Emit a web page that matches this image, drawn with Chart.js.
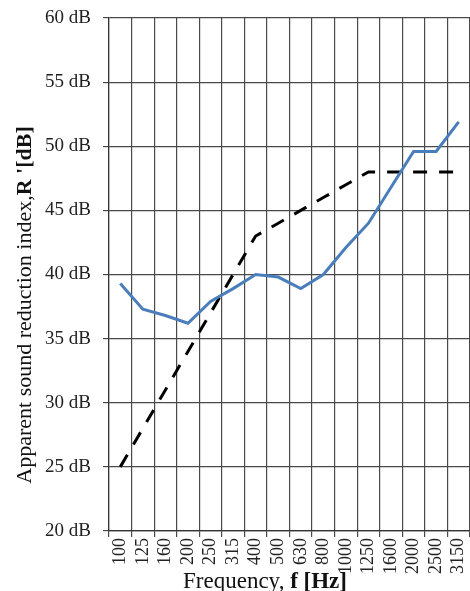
<!DOCTYPE html>
<html>
<head>
<meta charset="utf-8">
<script src="https://cdn.jsdelivr.net/npm/chart.js@4/dist/chart.umd.min.js"></script>
<style>
  html, body { margin: 0; padding: 0; background: #fff; }
  #wrap { position: relative; width: 470px; height: 591px; overflow: hidden; }
</style>
</head>
<body>
<div id="wrap"><canvas id="c" width="470" height="591"></canvas></div>
<script>
// One-third-octave band centre frequencies [Hz]
const frequencies = ['100', '125', '160', '200', '250', '315', '400', '500', '630',
  '800', '1000', '1250', '1600', '2000', '2500', '3150'];

// Measured apparent sound reduction index R' [dB]
const measuredR = [39.3, 37.3, 36.8, 36.2, 37.9, 38.9, 40.0, 39.8, 38.9,
  40.0, 42.1, 44.0, 46.8, 49.6, 49.6, 51.9];

// Reference curve [dB]
const referenceR = [25, 28, 31, 34, 37, 40, 43, 44, 45, 46, 47, 48, 48, 48, 48, 48];

// Y axis tick range [dB]
const yMin = 20, yMax = 60, yStep = 5;

const serif = "'Liberation Serif', 'Times New Roman', serif";
const gridColor = '#4a4a4a';

// Axis titles with a bold symbol part
const axisTitles = {
  id: 'axisTitles',
  afterDraw(chart) {
    const ctx = chart.ctx;
    const drawMixed = (parts, cx, cy, sz) => {
      let total = 0;
      parts.forEach(p => { ctx.font = p[1] + ' ' + sz + 'px ' + serif; total += ctx.measureText(p[0]).width; });
      let x = cx - total / 2;
      parts.forEach(p => {
        ctx.font = p[1] + ' ' + sz + 'px ' + serif;
        ctx.fillText(p[0], x, cy);
        x += ctx.measureText(p[0]).width;
      });
    };
    ctx.save();
    ctx.fillStyle = '#111';
    ctx.textBaseline = 'alphabetic';
    ctx.textAlign = 'left';
    drawMixed([['Frequency, ', 'normal'], ['f [Hz]', 'bold']], 265, 588, 23);
    ctx.translate(31, 305);
    ctx.rotate(-Math.PI / 2);
    drawMixed([['Apparent sound reduction index,', 'normal'], ["R '[dB]", 'bold']], 0, 0, 22);
    ctx.restore();
  }
};

new Chart(document.getElementById('c'), {
  type: 'line',
  data: {
    labels: frequencies,
    datasets: [
      {
        data: measuredR,
        borderColor: '#4A7EBB',
        borderWidth: 3,
        pointRadius: 0,
        tension: 0,
        fill: false
      },
      {
        data: referenceR,
        borderColor: '#000000',
        borderWidth: 3,
        borderDash: [14, 12],
        pointRadius: 0,
        tension: 0,
        fill: false
      }
    ]
  },
  options: {
    responsive: false,
    animation: false,
    devicePixelRatio: 1,
    layout: { padding: { top: 18, right: 0, bottom: 0, left: 0 } },
    plugins: { legend: { display: false }, tooltip: { enabled: false } },
    scales: {
      x: {
        type: 'category',
        offset: true,
        grid: { offset: true, color: gridColor, lineWidth: 1.2, tickLength: 6, tickColor: gridColor },
        border: { color: '#333', width: 1.2 },
        ticks: {
          color: '#222',
          font: { family: serif, size: 18 },
          maxRotation: 90, minRotation: 90,
          autoSkip: false,
          padding: 1
        },
        afterFit(scale) {
          scale.height = 60;
          scale.paddingLeft = 0;
          scale.paddingRight = 0;
        }
      },
      y: {
        min: yMin, max: yMax,
        grid: { color: gridColor, lineWidth: 1.2, tickLength: 6, tickColor: gridColor },
        border: { color: '#333', width: 1.2 },
        ticks: {
          stepSize: yStep,
          color: '#222',
          font: { family: serif, size: 19 },
          padding: 12,
          callback: v => v + ' dB'
        },
        afterFit(scale) {
          scale.width = 109;
          scale.paddingTop = 0;
          scale.paddingBottom = 0;
        }
      }
    }
  },
  plugins: [axisTitles]
});
</script>
</body>
</html>
